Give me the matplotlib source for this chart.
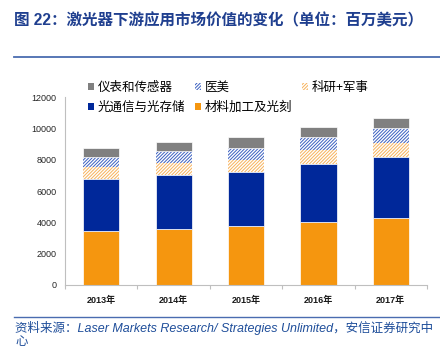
import matplotlib
matplotlib.use("Agg")
import matplotlib.pyplot as plt
from matplotlib.patches import Patch
from matplotlib.lines import Line2D
import numpy as np

plt.rcParams['font.family'] = ['Liberation Sans', 'Noto Sans CJK SC', 'DejaVu Sans']
plt.rcParams['hatch.linewidth'] = 0.7

years = ["2013年", "2014年", "2015年", "2016年", "2017年"]
materials = [3450, 3600, 3750, 4000, 4300]        # 材料加工及光刻
optical = [3350, 3450, 3450, 3750, 3900]          # 光通信与光存储
research = [750, 750, 800, 900, 850]              # 科研+军事
medical = [650, 750, 750, 800, 1000]              # 医美
instruments = [550, 600, 700, 650, 650]           # 仪表和传感器
yticks = [0, 2000, 4000, 6000, 8000, 10000, 12000]

c_orange = "#F5960F"
c_blue = "#00289A"
c_gray = "#808080"
c_bhatch = "#3A5FC0"
c_ohatch = "#F7B25A"
HATCH = "//////////"

fig = plt.figure(figsize=(4.40, 3.49), dpi=100)
ax = fig.add_axes([65/440, 1-285/349, (427-65)/440, (285-97.3)/349])

x = np.arange(len(years))
w = 0.5
b0 = np.zeros(len(years))
ax.bar(x, materials, w, bottom=b0, color=c_orange, edgecolor="white", linewidth=0.5)
b1 = b0 + np.array(materials)
ax.bar(x, optical, w, bottom=b1, color=c_blue, edgecolor="white", linewidth=0.5)
b2 = b1 + np.array(optical)
ax.bar(x, research, w, bottom=b2, color="white", edgecolor=c_ohatch, linewidth=0, hatch=HATCH)
b3 = b2 + np.array(research)
ax.bar(x, medical, w, bottom=b3, color="white", edgecolor=c_bhatch, linewidth=0, hatch=HATCH)
b4 = b3 + np.array(medical)
ax.bar(x, instruments, w, bottom=b4, color=c_gray, edgecolor="white", linewidth=0.5)

ax.set_xlim(-0.5, len(years) - 0.5)
ax.set_ylim(0, 12000)
ax.set_yticks(yticks)
ax.set_yticklabels([str(v) for v in yticks], fontsize=6.5, color="#262626")
ax.tick_params(axis='y', length=0, pad=6)
ax.set_xticks(x)
ax.set_xticklabels(years, fontsize=6.5, fontweight="bold", color="#1a1a1a")
ax.tick_params(axis='x', length=0, pad=8)
ax.set_xticks(np.arange(len(years) + 1) - 0.5, minor=True)
ax.tick_params(axis='x', which='minor', length=3, color="#bfbfbf", width=0.8)
for s in ["top", "right"]:
    ax.spines[s].set_visible(False)
for s in ["left", "bottom"]:
    ax.spines[s].set_color("#bfbfbf")
    ax.spines[s].set_linewidth(0.8)

handles = [
    Patch(facecolor=c_gray, edgecolor="none"),
    Patch(facecolor=c_blue, edgecolor="none"),
    Patch(facecolor="white", edgecolor=c_bhatch, hatch=HATCH, linewidth=0),
    Patch(facecolor=c_orange, edgecolor="none"),
    Patch(facecolor="white", edgecolor=c_ohatch, hatch=HATCH, linewidth=0),
]
labels = ["仪表和传感器", "光通信与光存储", "医美", "材料加工及光刻", "科研+军事"]
fig.legend(handles, labels, ncol=3, loc="upper left", bbox_to_anchor=(88/440, 1-81/349),
           frameon=False, handlelength=0.5, handleheight=0.5,
           handletextpad=0.3, columnspacing=0.75, labelspacing=0.55, borderpad=0,
           borderaxespad=0, prop={'family': ['Noto Sans CJK SC'], 'size': 9})

# title and rules
fig.text(14/440, 1-21/349, "图 22：激光器下游应用市场价值的变化（单位：百万美元）",
         fontsize=11.2, fontweight="bold", color="#1F3F8F", va="center", ha="left")
fig.add_artist(Line2D([14/440, 1.0], [1-57/349, 1-57/349], color="#4A6CB0", linewidth=1.3))
fig.add_artist(Line2D([14/440, 1.0], [1-317/349, 1-317/349], color="#4A6CB0", linewidth=1.0))

fig.text(15/440, 1-328/349,
         "资料来源：Laser Markets Research/ Strategies Unlimited，安信证券研究中",
         fontsize=9.0, style="italic", color="#1F4E9A", va="center", ha="left")
fig.text(15/440, 1-342/349, "心", fontsize=9.0, style="italic", color="#1F4E9A",
         va="center", ha="left")

fig.savefig("out.png", dpi=100)
